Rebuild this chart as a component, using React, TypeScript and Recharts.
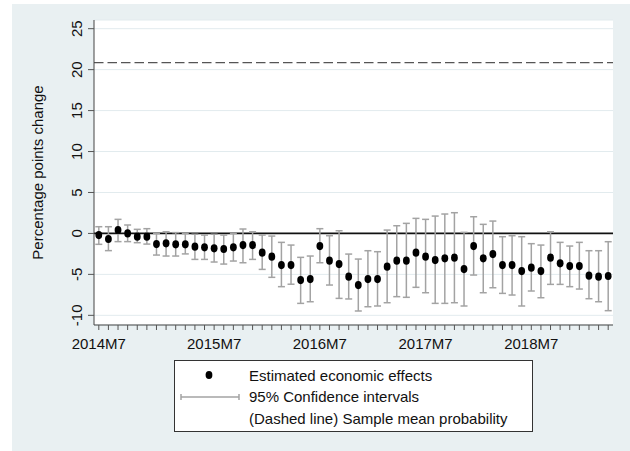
import type { ReactElement } from "react";
import {
  CartesianGrid,
  ComposedChart,
  ErrorBar,
  ReferenceLine,
  Scatter,
  XAxis,
  YAxis,
} from "recharts";

// monthly estimates, index 0 = 2014M7
const estimates = [
  -0.2, -0.68, 0.42, 0.0, -0.4, -0.4, -1.3, -1.21, -1.33, -1.33,
  -1.62, -1.7, -1.82, -1.9, -1.7, -1.42, -1.42, -2.35, -2.84, -3.86,
  -3.86, -5.69, -5.57, -1.54, -3.33, -3.74, -5.28, -6.3, -5.57, -5.57,
  -4.06, -3.33, -3.33, -2.35, -2.84, -3.25, -3.04, -2.96, -4.35, -1.54,
  -3.04, -2.52, -3.86, -3.86, -4.59, -4.18, -4.59, -2.96, -3.65, -3.98,
  -3.98, -5.16, -5.28, -5.2,
];
const ciLow = [
  -1.33, -2.1, -1.0, -1.0, -1.13, -1.3, -2.64, -2.76, -2.76, -2.5,
  -3.17, -3.17, -3.49, -3.74, -3.37, -3.58, -3.17, -4.39, -5.36, -6.5,
  -6.2, -8.54, -8.34, -3.58, -6.3, -7.93, -8.0, -9.47, -8.95, -8.86,
  -8.46, -7.72, -7.8, -6.58, -7.24, -8.54, -8.54, -8.46, -8.86, -5.08,
  -7.24, -6.63, -7.32, -7.52, -8.86, -7.03, -7.85, -6.22, -6.22, -6.5,
  -6.79, -7.97, -8.34, -9.43,
];
const ciHigh = [
  0.82, 0.82, 1.72, 1.03, 0.5, 0.58, 0.0, 0.2, 0.1, 0.0,
  -0.1, -0.2, -0.1, -0.2, 0.0, 0.54, 0.2, -0.2, -0.32, -1.09,
  -1.42, -2.92, -2.76, 0.58, -0.28, 0.33, -2.52, -3.13, -2.11, -2.23,
  0.41, 0.94, 1.23, 1.84, 1.72, 2.12, 2.37, 2.53, 0.13, 2.04,
  1.11, 1.51, -0.4, -0.28, -0.4, -1.25, -1.42, 0.2, -1.09, -1.54,
  -1.09, -2.11, -2.11, -1.01,
];
const labelIndex = [0, 12, 23, 34, 45];
const labelText = ["2014M7", "2015M7", "2016M7", "2017M7", "2018M7"];
const yTicks = [-10, -5, 0, 5, 10, 15, 20, 25];
const sampleMean = 20.85;

const FONT = "'Liberation Sans', Arial, sans-serif";
const BG = "#e9f0f2";

type Row = { i: number; est: number; err: [number, number] };

const rows: Row[] = estimates.map((est, i) => ({
  i,
  est,
  err: [est - ciLow[i], ciHigh[i] - est],
}));

const xTicks = rows.map((r) => r.i);

function xLabel(v: number): string {
  const k = labelIndex.indexOf(v);
  return k >= 0 ? labelText[k] : "";
}

function YTick(props: any): ReactElement {
  const { x, y, payload } = props;
  return (
    <text
      x={x}
      y={y}
      transform={`rotate(-90 ${x} ${y})`}
      textAnchor="middle"
      fontSize={15}
      fontFamily={FONT}
      fill="#111"
    >
      {payload.value}
    </text>
  );
}

function Dot(props: any): ReactElement {
  return <ellipse cx={props.cx} cy={props.cy} rx={3.4} ry={4.1} fill="#000" />;
}

export default function App(): ReactElement {
  return (
    <div style={{ position: "absolute", left: 0, top: 0, width: 630, height: 451, background: "#fff" }}>
      <div style={{ position: "absolute", left: 12, top: 4, width: 618, height: 447, background: BG }} />
      <div style={{ position: "absolute", left: 0, top: 0 }}>
        <ComposedChart
          width={630}
          height={451}
          data={rows}
          margin={{ top: 20, right: 17, bottom: 96, left: 34 }}
        >
          <CartesianGrid vertical={false} stroke="#e2ebee" fill="#fff" fillOpacity={1} />
          <XAxis
            dataKey="i"
            type="number"
            domain={[-0.5, 53.5]}
            ticks={xTicks}
            interval={0}
            tickFormatter={xLabel}
            tickSize={5}
            tickMargin={8}
            height={30}
            axisLine={{ stroke: "#444" }}
            tickLine={{ stroke: "#555" }}
            tick={{ fontSize: 15, fontFamily: FONT, fill: "#111" }}
          />
          <YAxis
            type="number"
            domain={[-11.18, 26.06]}
            allowDataOverflow
            ticks={yTicks}
            width={60}
            tickSize={6}
            tickMargin={6}
            axisLine={{ stroke: "#444" }}
            tickLine={{ stroke: "#555" }}
            tick={<YTick />}
          />
          <ReferenceLine y={0} stroke="#111" strokeWidth={1.7} />
          <ReferenceLine y={sampleMean} stroke="#555" strokeWidth={1.4} strokeDasharray="9.5 4" />
          <Scatter dataKey="est" shape={<Dot />} isAnimationActive={false}>
            <ErrorBar
              dataKey="err"
              direction="y"
              width={3.5}
              stroke="#a3a3a3"
              strokeWidth={1.5}
              isAnimationActive={false}
            />
          </Scatter>
        </ComposedChart>
      </div>
      <div
        style={{
          position: "absolute",
          left: 0,
          top: 0,
          width: 74,
          height: 345,
          pointerEvents: "none",
        }}
      >
        <svg width={74} height={345}>
          <text
            x={37}
            y={172.5}
            transform="rotate(-90 37 172.5)"
            textAnchor="middle"
            dominantBaseline="central"
            fontSize={15}
            fontFamily={FONT}
            fill="#111"
          >
            Percentage points change
          </text>
        </svg>
      </div>
      <div
        style={{
          position: "absolute",
          left: 174,
          top: 360,
          width: 359,
          height: 72,
          boxSizing: "border-box",
          border: "1px solid #333",
          background: "#fff",
          fontFamily: FONT,
          fontSize: 15,
          color: "#111",
        }}
      >
        <svg width={80} height={70} style={{ position: "absolute", left: 0, top: 0 }}>
          <ellipse cx={34} cy={14} rx={3.4} ry={4.1} fill="#000" />
          <line x1={6} y1={36} x2={64} y2={36} stroke="#a3a3a3" strokeWidth={1.5} />
          <line x1={6} y1={33} x2={6} y2={39} stroke="#a3a3a3" strokeWidth={1.5} />
          <line x1={64} y1={33} x2={64} y2={39} stroke="#a3a3a3" strokeWidth={1.5} />
        </svg>
        <div style={{ position: "absolute", left: 74, top: 5, lineHeight: "20px", whiteSpace: "nowrap" }}>
          Estimated economic effects
        </div>
        <div style={{ position: "absolute", left: 74, top: 26, lineHeight: "20px", whiteSpace: "nowrap" }}>
          95% Confidence intervals
        </div>
        <div style={{ position: "absolute", left: 74, top: 48, lineHeight: "20px", whiteSpace: "nowrap" }}>
          (Dashed line) Sample mean probability
        </div>
      </div>
    </div>
  );
}
